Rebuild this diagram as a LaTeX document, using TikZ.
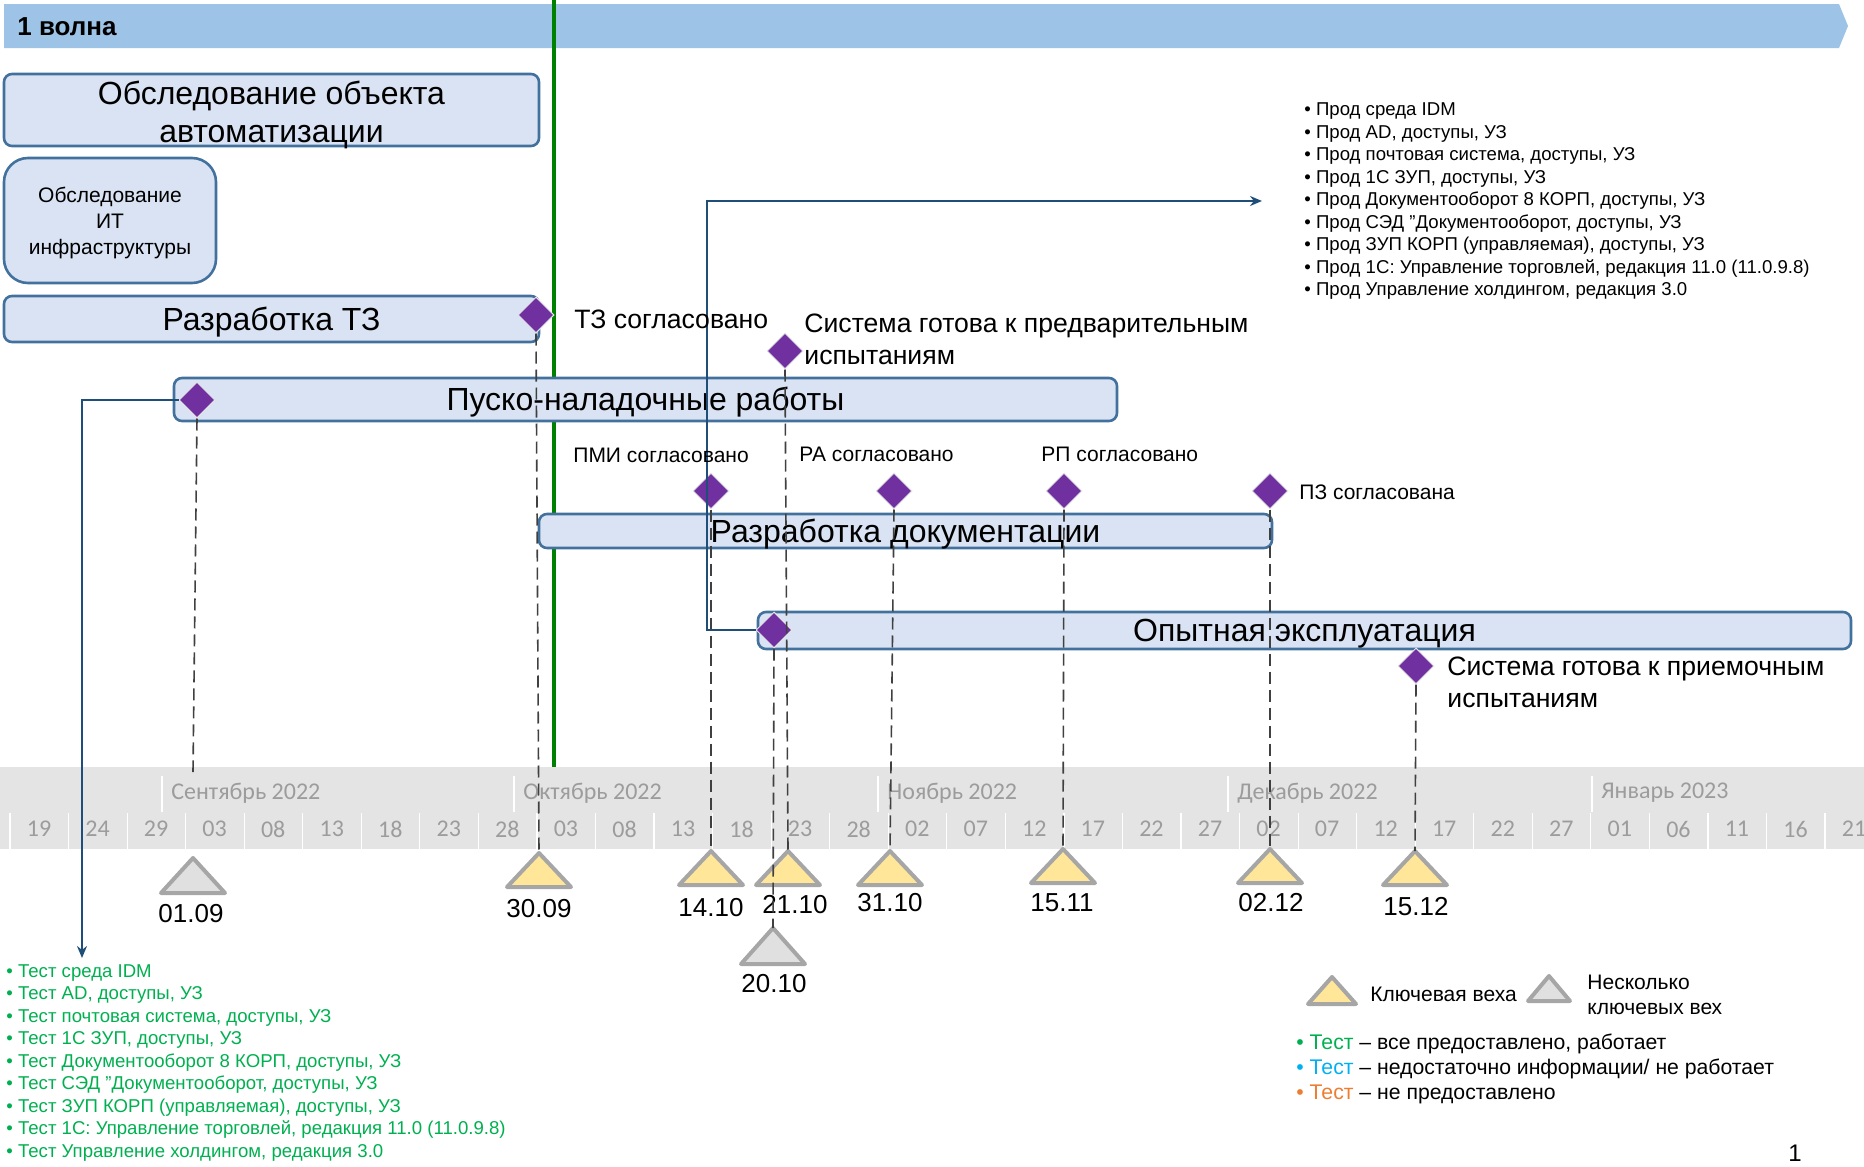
\documentclass[tikz,border=0pt]{standalone}
\usepackage{fontspec}
\setmainfont{Liberation Sans}
\newfontfamily\tlfont{Carlito}
\usetikzlibrary{shapes.geometric,arrows.meta}

\definecolor{bandblue}{HTML}{9DC3E6}
\definecolor{boxfill}{HTML}{DAE3F3}
\definecolor{boxline}{HTML}{41719C}
\definecolor{purp}{HTML}{7030A0}
\definecolor{connblue}{HTML}{1F4E79}
\definecolor{tlgray}{HTML}{E4E4E4}
\definecolor{tltext}{HTML}{9C9C9C}
\definecolor{msyellow}{HTML}{FFE699}
\definecolor{msgray}{HTML}{E0E0E0}
\definecolor{msline}{HTML}{A6A6A6}
\definecolor{tgreen}{HTML}{00B050}
\definecolor{tblue}{HTML}{00B0F0}
\definecolor{torange}{HTML}{ED7D31}
\definecolor{dashgray}{HTML}{404040}
\definecolor{vgreen}{HTML}{008000}

% name, x, apex y, fill, half width, height
\newcommand\mstri[6]{%
  \draw[tri, fill=#4] (#2,#3) -- ++(#5,#6) -- ++(-2*#5,0) -- cycle;
  \coordinate (#1) at (#2,#3);}

\begin{document}
\begin{tikzpicture}[x=0.5pt,y=-0.5pt,
  phase/.style={draw=boxline, fill=boxfill, line width=1.3pt, rounded corners=4pt, inner sep=0pt},
  ptext/.style={inner sep=0pt, align=center, font=\fontsize{16}{19}\selectfont},
  ms/.style={diamond, fill=purp, draw=white!90!black, line width=0.5pt,
    minimum width=18pt, minimum height=18pt, inner sep=0pt},
  tri/.style={draw=msline, line width=2pt, line join=round},
  guide/.style={draw=dashgray, line width=0.8pt, dash pattern=on 6pt off 3pt},
  conn/.style={draw=connblue, line width=1pt},
  lbl/.style={font=\fontsize{13.3}{16}\selectfont, inner sep=0pt, anchor=west, align=left},
  small/.style={font=\fontsize{10.5}{12.5}\selectfont, inner sep=0pt, anchor=west},
  datel/.style={font=\fontsize{13}{15}\selectfont, inner sep=0pt},
  tlday/.style={font=\tlfont\fontsize{12}{14}\selectfont, text=tltext, inner sep=0pt},
  tlmonth/.style={font=\tlfont\fontsize{12}{14}\selectfont, text=tltext, inner sep=0pt, anchor=west},
  blist/.style={font=\fontsize{9.3}{11.25}\selectfont, inner sep=0pt, anchor=west, align=left},
]
\useasboundingbox (0,0) rectangle (1864,1167);

% wave band
\fill[bandblue] (4,4) -- (1839,4) -- (1848,26) -- (1839,48) -- (4,48) -- cycle;
\node[font=\bfseries\fontsize{13}{15}\selectfont, anchor=west, inner sep=0pt] (wave) at (17,27) {1 волна};

% today line
\draw[vgreen, line width=2pt] (554,0) -- (554,767);

% timeline
\fill[tlgray] (0,767) rectangle (1864,849);
\foreach \xx in {162,514,878,1228,1592}
  \draw[white, line width=0.6pt] (\xx,776) -- (\xx,812);
\foreach \xx/\mm [count=\ii] in {171/Сентябрь 2022, 523/Октябрь 2022, 887/Ноябрь 2022, 1237/Декабрь 2022, 1601/Январь 2023}
  \node[tlmonth] (mon\ii) at (\xx,793) {\mm};
\foreach \kk in {0,...,32}
  \draw[white, line width=0.6pt] ({10+58.55*\kk},813) -- ({10+58.55*\kk},849);
\foreach \dlab [count=\kk from 0] in {19,24,29,03,08,13,18,23,28,03,08,13,18,23,28,02,07,12,17,22,27,02,07,12,17,22,27,01,06,11,16,21}
  \node[tlday] (day\kk) at ({39+58.55*\kk},829) {\dlab};

% phases
\node[phase, minimum width=267.5pt, minimum height=36pt] (obj) at (271.5,110) {};
\node[ptext] (objT) at ([yshift=-2.5pt]obj.center) {Обследование объекта\\автоматизации};
\node[phase, rounded corners=12pt, minimum width=106pt, minimum height=62.5pt] (it) at (110,220.5) {};
\node[ptext, font=\fontsize{10.5}{13}\selectfont] (itT) at ([yshift=-1.2pt]it.center) {Обследование\\ИТ\\инфраструктуры};
\node[phase, minimum width=267.5pt, minimum height=23pt] (tz) at (271.5,319) {};
\node[ptext] (tzT) at ([yshift=-1.5pt]tz.center) {Разработка ТЗ};
\node[phase, minimum width=471.5pt, minimum height=21.5pt] (pnr) at (645.5,399.5) {};
\node[ptext] (pnrT) at ([yshift=-1.5pt]pnr.center) {Пуско-наладочные работы};
\node[phase, minimum width=366.5pt, minimum height=17pt] (doc) at (905.5,531) {};
\node[ptext] (docT) at ([yshift=-1.5pt]doc.center) {Разработка документации};
\node[phase, minimum width=546.5pt, minimum height=18.5pt] (oe) at (1304.5,630.5) {};
\node[ptext] (oeT) at ([yshift=-1.5pt]oe.center) {Опытная эксплуатация};

% milestone triangles
\mstri{t0109}{193}{858}{msgray}{32}{35}
\mstri{t3009}{539}{853}{msyellow}{32}{34}
\mstri{t1410}{711}{851}{msyellow}{32}{34}
\mstri{t2110}{788}{851}{msyellow}{32}{34}
\mstri{t3110}{890}{851}{msyellow}{32}{34}
\mstri{t1511}{1063}{849}{msyellow}{32}{34}
\mstri{t0212}{1270}{849}{msyellow}{32}{34}
\mstri{t1512}{1415}{851}{msyellow}{32}{34}
\mstri{t2010}{773}{928}{msgray}{32}{36}

% date labels
\node[datel] (l0109) at (191,914) {01.09};
\node[datel] (l3009) at (539,909) {30.09};
\node[datel] (l1410) at (711,908) {14.10};
\node[datel] (l2110) at (795,905) {21.10};
\node[datel] (l3110) at (890,903) {31.10};
\node[datel] (l1511) at (1062,903) {15.11};
\node[datel] (l0212) at (1271,903) {02.12};
\node[datel] (l1512) at (1416,907) {15.12};
\node[datel] (l2010) at (774,984) {20.10};

% diamonds
\node[ms] (dTZ) at (536,315) {};
\node[ms] (dSys1) at (785,351) {};
\node[ms] (dPNR) at (197,400) {};
\node[ms] (dPMI) at (711,491) {};
\node[ms] (dRA) at (894,491) {};
\node[ms] (dRP) at (1064,491) {};
\node[ms] (dPZ) at (1270,491) {};
\node[ms] (dOE) at (774,630) {};
\node[ms] (dSys2) at (1416,666) {};

% guide lines
\coordinate (e0109) at (193,772);
\draw[guide] (dPNR.south) -- (e0109);
\draw[guide] (dTZ.south) -- (t3009);
\draw[guide] (dPMI.south) -- (t1410);
\draw[guide] (dSys1.south) -- (t2110);
\draw[guide] (dOE.south) -- (t2010);
\draw[guide] (dRA.south) -- (t3110);
\draw[guide] (dRP.south) -- (t1511);
\draw[guide] (dPZ.south) -- (t0212);
\draw[guide] (dSys2.south) -- (t1512);

% connectors
\coordinate (cTest) at (82,958);
\draw[conn, -{Stealth[length=6pt,width=5pt]}] (dPNR.west) -| (cTest);
\coordinate (bend) at (707,201);
\coordinate (cProd) at (1262,201);
\draw[conn, -{Stealth[length=6pt,width=5pt]}] (dOE.west) -| (bend) -- (cProd);

% milestone texts
\node[lbl] (lTZ) at (574,319) {ТЗ согласовано};
\node[lbl] (lSys1) at (804,339) {Система готова к предварительным\\испытаниям};
\node[lbl] (lSys2) at (1447,682) {Система готова к приемочным\\испытаниям};
\node[small] (lPMI) at (573,455) {ПМИ согласовано};
\node[small] (lRA) at (799,454) {РА согласовано};
\node[small] (lRP) at (1041,454) {РП согласовано};
\node[small] (lPZ) at (1299,492) {ПЗ согласована};

% lists
\node[blist] (prod) at (1304,201.5) {• Прод среда IDM\\• Прод AD, доступы, УЗ\\• Прод почтовая система, доступы, УЗ\\• Прод 1С ЗУП, доступы, УЗ\\• Прод Документооборот 8 КОРП, доступы, УЗ\\• Прод СЭД "Документооборот, доступы, УЗ\\• Прод ЗУП КОРП (управляемая), доступы, УЗ\\• Прод 1С: Управление торговлей, редакция 11.0 (11.0.9.8)\\• Прод Управление холдингом, редакция 3.0};
\node[blist, text=tgreen] (test) at (6,1063) {• Тест среда IDM\\• Тест AD, доступы, УЗ\\• Тест почтовая система, доступы, УЗ\\• Тест 1С ЗУП, доступы, УЗ\\• Тест Документооборот 8 КОРП, доступы, УЗ\\• Тест СЭД "Документооборот, доступы, УЗ\\• Тест ЗУП КОРП (управляемая), доступы, УЗ\\• Тест 1С: Управление торговлей, редакция 11.0 (11.0.9.8)\\• Тест Управление холдингом, редакция 3.0};

% legend
\mstri{lgY}{1332}{977}{msyellow}{24}{27}
\mstri{lgG}{1549}{976}{msgray}{21}{25}
\node[small] (lgYt) at (1370,994) {Ключевая веха};
\node[small, align=left, font=\fontsize{10.5}{12.5}\selectfont] (lgGt) at (1587,995) {Несколько\\ключевых вех};
\node[anchor=west, align=left, inner sep=0pt, font=\fontsize{10.6}{12.5}\selectfont] (legend) at (1296,1068.5) {\textcolor{tgreen}{• Тест} – все предоставлено, работает\\\textcolor{tblue}{• Тест} – недостаточно информации/ не работает\\\textcolor{torange}{• Тест} – не предоставлено};
\node[font=\fontsize{12}{14}\selectfont, inner sep=0pt] (pg) at (1795,1153) {1};
\end{tikzpicture}
\end{document}
